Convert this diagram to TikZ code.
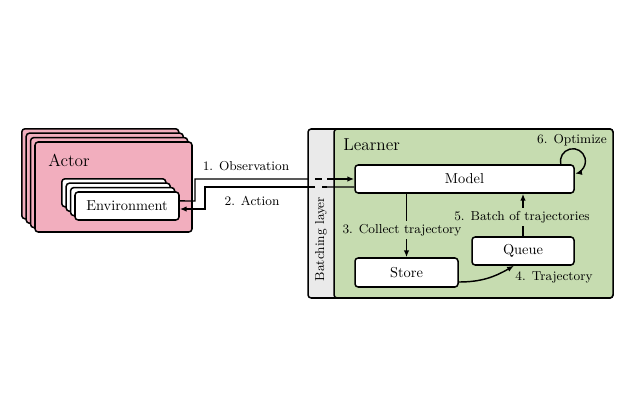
\documentclass[tikz,border=0pt]{standalone}
\usetikzlibrary{arrows.meta}
\definecolor{actorpink}{RGB}{242,174,190}
\definecolor{learngreen}{RGB}{198,220,176}
\definecolor{batchgray}{RGB}{234,234,234}
\newcommand\pxu{0.6944pt}
\begin{document}
\begin{tikzpicture}[x=0.6944pt,y=-0.6944pt,
  outline/.style={draw=black,line width=1.05pt,rounded corners=2.2pt},
  pinkbox/.style={outline,fill=actorpink},
  whitebox/.style={outline,fill=white,inner sep=0pt},
  line/.style={draw=black,line width=1pt},
  arrow/.style={line,-{Latex[length=4.8pt,width=3.8pt]}},
  lbl/.style={font=\small,inner sep=1.5pt},
  glbl/.style={lbl,fill=learngreen,inner sep=2.2pt}]
\useasboundingbox (0,0) rectangle (640,413);

% Actor stack
\foreach \i in {3,2,1}{
  \draw[pinkbox] (35-4.4*\i,142-4.4*\i) rectangle +(157,90);
}
\node[pinkbox,inner sep=0pt,minimum width=157*\pxu,minimum height=90*\pxu] (actor) at (113.5,187) {};
\node[anchor=west,font=\large,inner sep=0pt] (actorlbl) at (48,160) {Actor};

% Environment stack
\foreach \i in {3,2,1}{
  \draw[outline,fill=white] (75-4.4*\i,192-4.4*\i) rectangle +(104,28);
}
\node[whitebox,minimum width=104*\pxu,minimum height=28*\pxu] (env) at (127,206) {Environment};

% Batching layer and learner
\node[outline,fill=batchgray,inner sep=0pt,minimum width=305*\pxu,minimum height=169*\pxu] (batch) at (460.5,213.5) {};
\node[outline,fill=learngreen,inner sep=0pt,minimum width=279*\pxu,minimum height=169*\pxu] (learner) at (473.5,213.5) {};
\node[rotate=90,font=\small,inner sep=0pt] (batchlbl) at (321,239) {Batching layer};
\node[anchor=west,font=\large,inner sep=0pt] (learnerlbl) at (343,145) {Learner};

% Learner nodes
\node[whitebox,minimum width=219*\pxu,minimum height=28*\pxu] (model) at (464.5,179) {Model};
\node[whitebox,minimum width=103*\pxu,minimum height=29*\pxu] (store) at (406.5,272.5) {Store};
\node[whitebox,minimum width=102*\pxu,minimum height=28*\pxu] (queue) at (523,251) {Queue};

% Observation
\coordinate (obsbend) at (195,201);
\coordinate (obsL) at (308,179);
\coordinate (obsR) at (327,179);
\draw[line] ([yshift=3.5pt]env.east) -- (obsbend) |- (obsL);
\draw[line,dash pattern=on 0pt off 4.8pt on 4.8pt off 3.5pt] (obsL) -- (obsR);
\draw[arrow] (obsR) -- (model.west);
\node[lbl] (lobs) at (246,166) {1. Observation};

% Action
\coordinate (actR) at (327,187);
\coordinate (actL) at (308,187);
\coordinate (actbend) at (205,187);
\draw[line] ([yshift=-5.56pt]model.west) -- (actR);
\draw[line,dash pattern=on 3.5pt off 4.8pt on 4.8pt off 4.8pt] (actR) -- (actL);
\draw[arrow] (actL) -- (actbend) |- ([yshift=-2.1pt]env.east);
\node[lbl] (lact) at (252,201) {2. Action};

% Collect trajectory
\draw[arrow] (store.north |- model.south) -- (store.north);
\node[glbl] (lcollect) at (402,230) {3. Collect trajectory};

% Trajectory
\draw[arrow] ([yshift=-6.6pt]store.east) to[out=0,in=210] ([xshift=-6.25pt]queue.south);
\node[lbl] (ltraj) at (554,277) {4. Trajectory};

% Batch of trajectories
\draw[arrow] (queue.north) -- (queue.north |- model.south);
\node[glbl] (lbatch) at (522,217) {5. Batch of trajectories};

% Optimize
\draw[arrow] ([xshift=-9.7pt]model.north east) arc[start angle=166,end angle=440,radius=12.5];
\node[lbl] (lopt) at (572,140) {6. Optimize};
\end{tikzpicture}
\end{document}
